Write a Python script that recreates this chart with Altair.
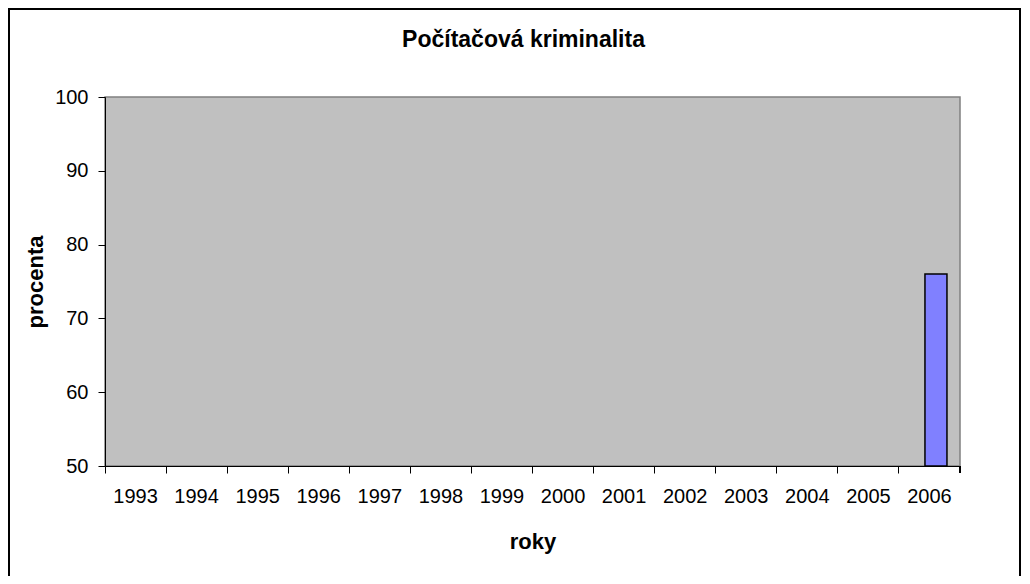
import altair as alt
import pandas as pd

years = ["1993", "1994", "1995", "1996", "1997", "1998", "1999",
         "2000", "2001", "2002", "2003", "2004", "2005", "2006"]
values = [None, None, None, None, None, None, None,
          None, None, None, None, None, None, 76]
y_ticks = [50, 60, 70, 80, 90, 100]

title_text = "Počítačová kriminalita"
x_title = "roky"
y_title = "procenta"

df = pd.DataFrame({"rok": years, "procenta": values})
title_df = pd.DataFrame({"t": [title_text]})

W, H = 855, 369
FONT = "Liberation Sans"

x_enc = alt.X("rok:N", sort=years,
              scale=alt.Scale(domain=years, paddingInner=0, paddingOuter=0),
              axis=alt.Axis(title=x_title, labelAngle=0, bandPosition=0,
                            tickSize=7, labelPadding=13, labelFontSize=20,
                            labelFont=FONT, labelColor="black",
                            domainColor="black", tickColor="black",
                            titleFont=FONT, titleFontSize=22, titleFontWeight="bold",
                            titleX=W / 2, titleY=75, titleBaseline="middle",
                            titleColor="black"))
y_enc = alt.Y("procenta:Q",
              scale=alt.Scale(domain=[50, 100], zero=False, nice=False),
              axis=alt.Axis(title=y_title, values=y_ticks, grid=False,
                            tickSize=7, labelPadding=10, labelFontSize=20,
                            labelFont=FONT, labelColor="black",
                            domainColor="black", tickColor="black",
                            titleFont=FONT, titleFontSize=22, titleFontWeight="bold",
                            titleAngle=-90, titleX=-70, titleY=H / 2,
                            titleBaseline="middle", titleAlign="center",
                            titleColor="black"))

bars = alt.Chart(df).mark_bar(size=22, xOffset=6.5, color="#8080FF",
                              stroke="black", strokeWidth=1.5).encode(
    x=x_enc, y=y_enc, y2=alt.datum(50)
)

end_tick = alt.Chart(df).mark_rule(color="black").encode(
    x=alt.value(W), y=alt.value(H), y2=alt.value(H + 7)
)

title = alt.Chart(title_df).mark_text(font=FONT, fontSize=23, fontWeight="bold",
                                      color="black", align="center",
                                      baseline="alphabetic").encode(
    text="t:N", x=alt.value(W / 2 - 9), y=alt.value(-50)
)

border = alt.Chart(df).mark_rect(fill=None, stroke="black", strokeWidth=1.5).encode(
    x=alt.value(-96), x2=alt.value(W + 60), y=alt.value(-88), y2=alt.value(H + 130)
)

chart = alt.layer(bars, end_tick, title, border).properties(
    width=W, height=H,
    autosize=alt.AutoSizeParams(type="none"),
    padding={"left": 97, "top": 89, "right": 62, "bottom": 110},
).configure(
    background="white"
).configure_view(
    fill="#C0C0C0", stroke="#808080", strokeWidth=1.5
)

chart.save("out.html", embed_options={"renderer": "svg", "actions": False})
